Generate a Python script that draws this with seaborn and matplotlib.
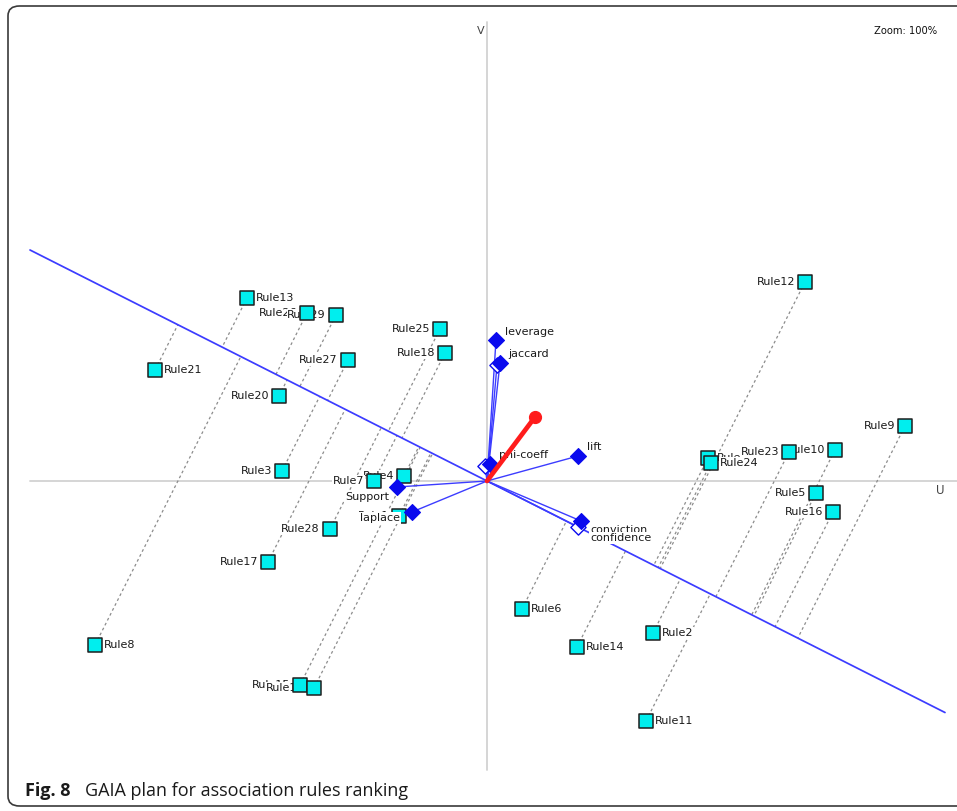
import numpy as np
import pandas as pd
import matplotlib
matplotlib.use("Agg")
import matplotlib.pyplot as plt
import seaborn as sns
from matplotlib.patches import FancyBboxPatch

# ---- GAIA plane data (U, V coordinates) ----
rules = [f"Rule{i}" for i in range(1, 30)]
rule_u = [-0.88, 1.66, -2.05, -0.83, 3.29, 0.35, -1.13, -3.92, 4.18, 3.48,
          1.59, 3.18, -2.40, 0.90, -1.87, 3.46, -2.19, -0.42, -1.73, -2.08,
          -3.32, 2.21, 3.02, 2.24, -0.47, -1.80, -1.39, -1.57, -1.51]
rule_v = [-0.35, -1.52, 0.10, 0.05, -0.12, -1.28, 0.00, -1.64, 0.55, 0.31,
          -2.40, 1.99, 1.83, -1.66, -2.04, -0.31, -0.81, 1.28, -2.07, 0.85,
          1.11, 0.23, 0.29, 0.18, 1.52, 1.68, 1.21, -0.48, 1.66]
label_side = ["L", "R", "L", "L", "L", "R", "L", "R", "L", "L",
              "R", "L", "R", "R", "L", "L", "L", "L", "L", "L",
              "R", "R", "L", "R", "L", "L", "L", "L", "L"]

criteria = ["leverage", "jaccard", "phi-coeff", "lift", "conviction",
            "confidence", "Support", "laplace"]
crit_u = [0.09, 0.13, 0.03, 0.91, 0.94, 0.91, -0.90, -0.75]
crit_v = [1.41, 1.18, 0.17, 0.25, -0.40, -0.46, -0.06, -0.31]
crit_active = [True, True, True, True, True, False, True, True]
crit_offset = [(9, 8), (8, 9), (9, 9), (9, 9), (9, -9), (12, -11), (-8, -10), (-12, -6)]

# criteria drawn without a name (overlapped)
hidden_u = [0.10, -0.02]
hidden_v = [1.16, 0.15]

# decision axis and the criterion used for the projection stick
decision_u, decision_v = 0.48, 0.64
stick_criterion = "confidence"

# ---- figure ----
sns.set_style("white")
plt.rcParams["font.family"] = ["DejaVu Sans"]

W, H = 957, 811
fig = plt.figure(figsize=(W / 100, H / 100), dpi=100)
ax = fig.add_axes([0, 0, 1, 1])
ax.set_xlim(-4.87, 4.70)
ax.set_ylim(-3.30, 4.81)
ax.set_aspect("equal")
ax.axis("off")

blue = "#3c3cff"
dblue = "#0a0aee"

# U / V axes
ax.plot([-4.57, 4.70], [0, 0], color="#d2d2d2", lw=1.3, zorder=0)
ax.plot([0, 0], [4.59, -2.89], color="#d2d2d2", lw=1.3, zorder=0)
ax.text(-0.06, 4.50, "V", fontsize=8, color="#444444", ha="center", va="center")
ax.text(4.53, -0.10, "U", fontsize=8.5, color="#444444", ha="center", va="center")
ax.text(4.19, 4.50, "Zoom: 100%", fontsize=7.2, color="#111111", ha="center", va="center")

# projection stick along the selected criterion
ci = criteria.index(stick_criterion)
d = np.array([crit_u[ci], crit_v[ci]])
d = d / np.linalg.norm(d)
slope = d[1] / d[0]
xs = np.array([-4.57, 4.58])
ax.plot(xs, slope * xs, color=blue, lw=1.25, zorder=2)

# dashed projections of each rule onto the stick
for u, v in zip(rule_u, rule_v):
    t = u * d[0] + v * d[1]
    ax.plot([u, t * d[0]], [v, t * d[1]], color="#8c8c8c", lw=0.9,
            linestyle=(0, (2.2, 2.2)), zorder=1)

# criteria vectors
for u, v in list(zip(crit_u, crit_v)) + list(zip(hidden_u, hidden_v)):
    ax.plot([0, u], [0, v], color=blue, lw=1.0, zorder=2)

# rule labels
for name, u, v, side in zip(rules, rule_u, rule_v, label_side):
    dx = 9 if side == "R" else -10
    ax.annotate(name, (u, v), xytext=(dx, 0), textcoords="offset pixels",
                ha="left" if side == "R" else "right", va="center",
                fontsize=8, color="#1a1a1a", zorder=3,
                bbox=dict(boxstyle="square,pad=0.05", fc="white", ec="none"))

# rule markers
df_rules = pd.DataFrame({"u": rule_u, "v": rule_v, "rule": rules})
sns.scatterplot(data=df_rules, x="u", y="v", marker="s", s=105,
                color="#00eeee", edgecolor="#1e1e1e", linewidth=1.1,
                ax=ax, zorder=4, legend=False)

# criteria labels and markers
for name, u, v, off in zip(criteria, crit_u, crit_v, crit_offset):
    ax.annotate(name, (u, v), xytext=off, textcoords="offset pixels",
                ha="left" if off[0] > 0 else "right", va="center",
                fontsize=8, color="#1a1a1a", zorder=5,
                bbox=dict(boxstyle="square,pad=0.05", fc="white", ec="none"))

df_crit = pd.DataFrame({"u": crit_u, "v": crit_v, "active": crit_active})
act = df_crit[df_crit["active"]]
ina = pd.concat([df_crit[~df_crit["active"]][["u", "v"]],
                 pd.DataFrame({"u": hidden_u, "v": hidden_v})])
sns.scatterplot(data=ina, x="u", y="v", marker="D", s=60, color="white",
                edgecolor=dblue, linewidth=1.0, ax=ax, zorder=6, legend=False)
sns.scatterplot(data=act, x="u", y="v", marker="D", s=66, color=dblue,
                edgecolor=dblue, linewidth=0.8, ax=ax, zorder=6, legend=False)

# decision axis
ax.plot([0, decision_u], [0, decision_v], color="#ff1c1c", lw=3.4,
        solid_capstyle="round", zorder=7)
ax.plot([decision_u], [decision_v], marker="o", ms=8.5, color="#ff1c1c", zorder=7)

# outer frame and caption
frame = FancyBboxPatch((8 / W, 1 - 806 / H), (980 - 8) / W, (806 - 6) / H,
                       boxstyle="round,pad=0,rounding_size=0.012",
                       transform=fig.transFigure, fill=False,
                       ec="#3a3a3a", lw=1.2, clip_on=False)
fig.patches.append(frame)

cap_y = 1 - 791 / H
fig.text(25 / W, cap_y, "Fig. 8", fontsize=13, fontweight="bold",
         family=["Open Sans", "DejaVu Sans"], ha="left", va="center", color="#1a1a1a")
fig.text(85 / W, cap_y, "GAIA plan for association rules ranking", fontsize=13,
         family=["Open Sans", "DejaVu Sans"], ha="left", va="center", color="#1a1a1a")

fig.savefig("out.png", dpi=100)
